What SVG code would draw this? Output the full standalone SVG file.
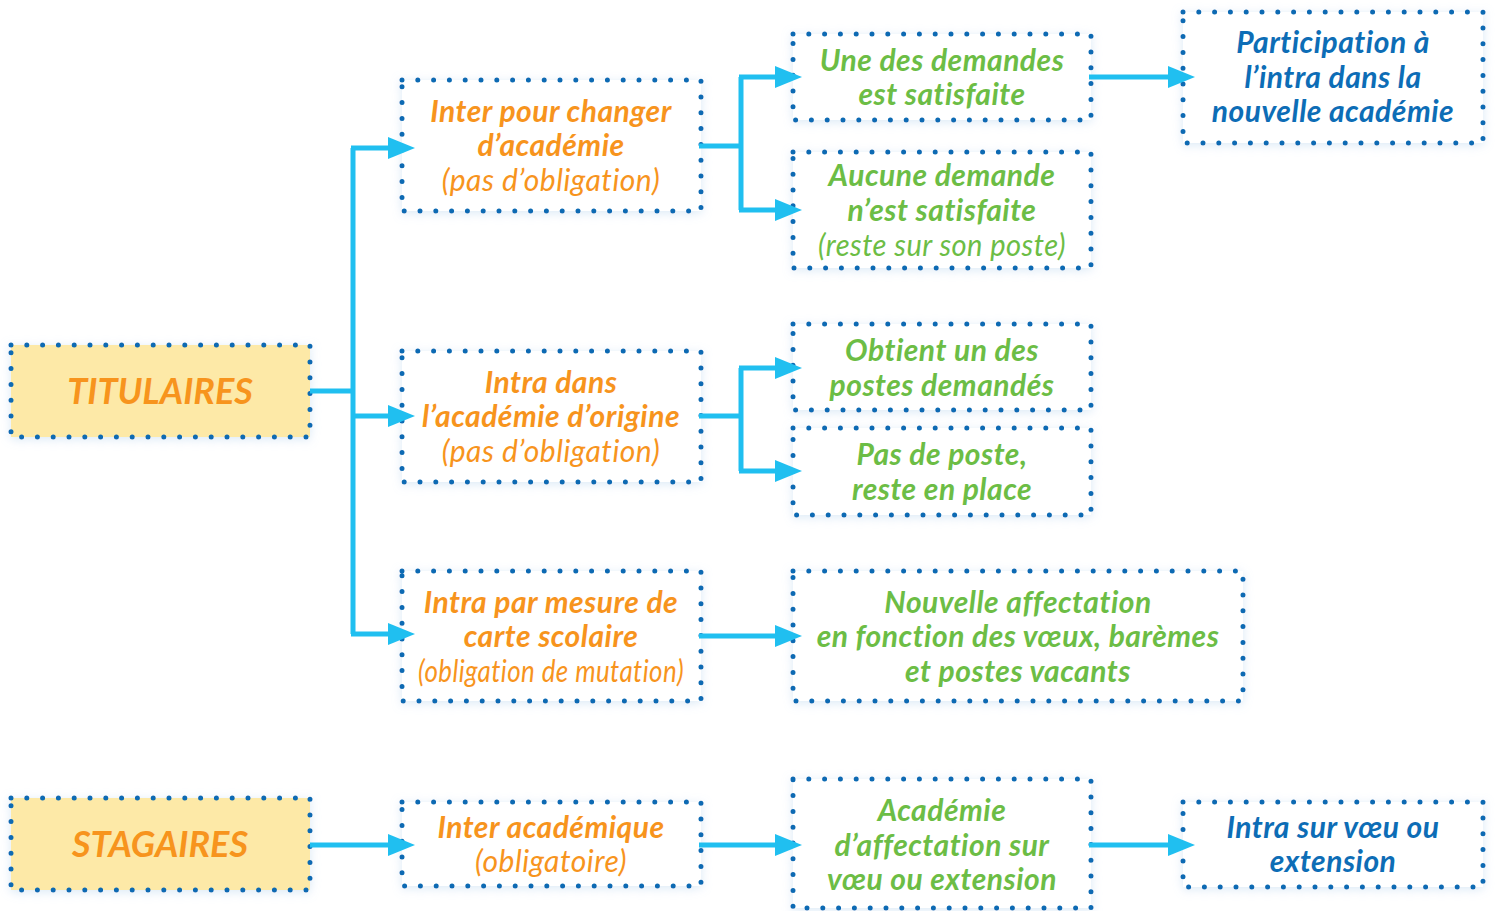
<svg xmlns="http://www.w3.org/2000/svg" width="1495" height="911" viewBox="0 0 1495 911">
<style>
.box{fill:#fff;stroke:#0b6ab3;stroke-width:5;stroke-dasharray:0 15.8;stroke-linecap:round;filter:url(#glow)}
.main{fill:#fde9a7}
.t{font-family:Lato,"Open Sans",sans-serif;font-style:italic;font-weight:700;font-size:30px;letter-spacing:0.5px;text-anchor:middle}
.l{font-weight:400}
.o{fill:#f7941d}
.g{fill:#6cbd45}
.b{fill:#0d6db6}
.big{font-size:36px;letter-spacing:0}
.c{fill:none;stroke:#20bff0;stroke-width:5}
</style>
<defs>
<filter id="glow" x="-10%" y="-20%" width="120%" height="140%">
<feDropShadow dx="0" dy="2" stdDeviation="5" flood-color="#9ec3e6" flood-opacity="0.35"/>
</filter>
<marker id="ah" markerUnits="userSpaceOnUse" markerWidth="27" markerHeight="22" viewBox="0 0 27 22" refX="17" refY="11" orient="auto">
<path d="M0,0 L27,11 L0,22 z" fill="#20bff0"/>
</marker>
</defs>

<g id="titulaires">
<rect class="box main" x="11" y="345" width="299" height="92"/>
<text class="t o big" x="160" y="404">TITULAIRES</text>
</g>
<g id="stagaires">
<rect class="box main" x="11" y="798" width="299" height="92"/>
<text class="t o big" x="160" y="857">STAGAIRES</text>
</g>

<g id="inter-changer">
<rect class="box" x="402" y="80" width="299" height="131"/>
<text class="t o" x="551" y="122">Inter pour changer</text>
<text class="t o" x="551" y="156">d’académie</text>
<text class="t o l" x="551" y="191">(pas d’obligation)</text>
</g>
<g id="intra-origine">
<rect class="box" x="402" y="351" width="299" height="131"/>
<text class="t o" x="551" y="393">Intra dans</text>
<text class="t o" x="551" y="427">l’académie d’origine</text>
<text class="t o l" x="551" y="462">(pas d’obligation)</text>
</g>
<g id="intra-carte">
<rect class="box" x="402" y="571" width="299" height="130"/>
<text class="t o" x="551" y="613">Intra par mesure de</text>
<text class="t o" x="551" y="647">carte scolaire</text>
<text class="t o l" x="551" y="682" textLength="266" lengthAdjust="spacingAndGlyphs">(obligation de mutation)</text>
</g>
<g id="inter-academique">
<rect class="box" x="402" y="802" width="299" height="84"/>
<text class="t o" x="551" y="838">Inter académique</text>
<text class="t o l" x="551" y="872">(obligatoire)</text>
</g>

<g id="une-demande">
<rect class="box" x="793" y="34" width="298" height="86"/>
<text class="t g" x="942" y="71">Une des demandes</text>
<text class="t g" x="942" y="105">est satisfaite</text>
</g>
<g id="aucune-demande">
<rect class="box" x="793" y="152" width="298" height="116"/>
<text class="t g" x="942" y="186">Aucune demande</text>
<text class="t g" x="942" y="221">n’est satisfaite</text>
<text class="t g l" x="942" y="256" textLength="248" lengthAdjust="spacingAndGlyphs">(reste sur son poste)</text>
</g>
<g id="obtient">
<rect class="box" x="793" y="324" width="298" height="86"/>
<text class="t g" x="942" y="361">Obtient un des</text>
<text class="t g" x="942" y="396">postes demandés</text>
</g>
<g id="pas-de-poste">
<rect class="box" x="793" y="428" width="298" height="87"/>
<text class="t g" x="942" y="465">Pas de poste,</text>
<text class="t g" x="942" y="500">reste en place</text>
</g>
<g id="nouvelle-affectation">
<rect class="box" x="793" y="571" width="450" height="130"/>
<text class="t g" x="1018" y="613">Nouvelle affectation</text>
<text class="t g" x="1018" y="647">en fonction des vœux, barèmes</text>
<text class="t g" x="1018" y="682">et postes vacants</text>
</g>
<g id="academie-affectation">
<rect class="box" x="793" y="779" width="298" height="129"/>
<text class="t g" x="942" y="821">Académie</text>
<text class="t g" x="942" y="856">d’affectation sur</text>
<text class="t g" x="942" y="890">vœu ou extension</text>
</g>

<g id="participation">
<rect class="box" x="1183" y="12" width="300" height="131"/>
<text class="t b" x="1333" y="53">Participation à</text>
<text class="t b" x="1333" y="88">l’intra dans la</text>
<text class="t b" x="1333" y="122">nouvelle académie</text>
</g>
<g id="intra-voeu">
<rect class="box" x="1183" y="802" width="300" height="85"/>
<text class="t b" x="1333" y="838">Intra sur vœu ou</text>
<text class="t b" x="1333" y="872">extension</text>
</g>

<g id="connectors">
<path class="c" d="M310,391 H353"/>
<path class="c" d="M353,148 V634"/>
<path class="c" d="M351,148 H405" marker-end="url(#ah)"/>
<path class="c" d="M353,416 H405" marker-end="url(#ah)"/>
<path class="c" d="M351,634 H405" marker-end="url(#ah)"/>
<path class="c" d="M699,146 H741"/>
<path class="c" d="M741,77 V210"/>
<path class="c" d="M739,77 H792" marker-end="url(#ah)"/>
<path class="c" d="M739,210 H792" marker-end="url(#ah)"/>
<path class="c" d="M699,416 H741"/>
<path class="c" d="M741,368 V471"/>
<path class="c" d="M739,368 H792" marker-end="url(#ah)"/>
<path class="c" d="M739,471 H792" marker-end="url(#ah)"/>
<path class="c" d="M699,636 H792" marker-end="url(#ah)"/>
<path class="c" d="M1089,77 H1185" marker-end="url(#ah)"/>
<path class="c" d="M310,845 H405" marker-end="url(#ah)"/>
<path class="c" d="M699,845 H792" marker-end="url(#ah)"/>
<path class="c" d="M1089,845 H1185" marker-end="url(#ah)"/>
</g>
</svg>
